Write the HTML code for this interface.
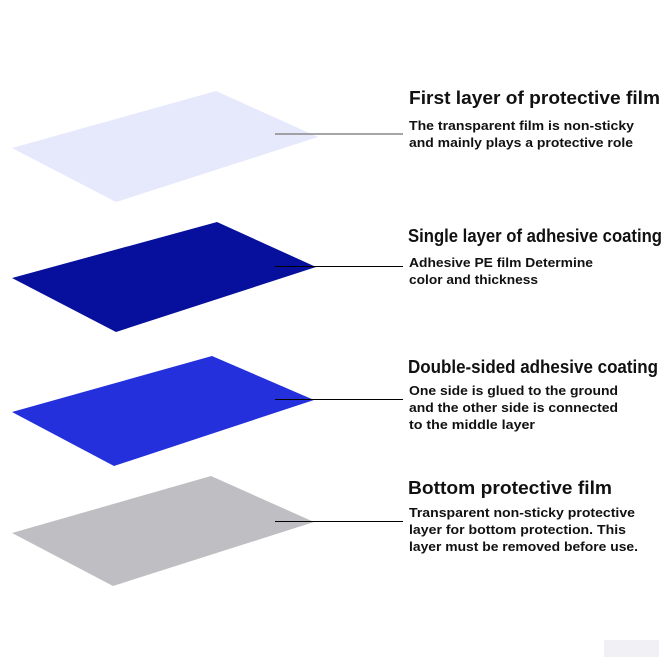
<!DOCTYPE html>
<html><head><meta charset="utf-8"><style>html,body{margin:0;padding:0;background:#fff}svg{display:block}</style></head>
<body>
<svg width="668" height="668" viewBox="0 0 668 668" xmlns="http://www.w3.org/2000/svg" font-family="Liberation Sans, sans-serif" font-weight="bold" fill="#111">
<polygon points="12,148 216,91 318,137 116,202" fill="#e6e8fc"/>
<polygon points="12,278 217,222 316,267 116,332" fill="#07109c"/>
<polygon points="12,412 212,356 314,400 114,466" fill="#2430dc"/>
<polygon points="12,533 211,476 314,522 113,586" fill="#bfbfc3"/>
<line x1="275" y1="134" x2="403" y2="134" stroke="#888" stroke-width="1.5"/>
<line x1="275" y1="266.5" x2="403" y2="266.5" stroke="#000" stroke-width="1"/>
<line x1="275" y1="399.5" x2="403" y2="399.5" stroke="#000" stroke-width="1"/>
<line x1="275" y1="521.5" x2="403" y2="521.5" stroke="#000" stroke-width="1"/>
<g font-size="18">
<text x="409" y="104" textLength="251" lengthAdjust="spacingAndGlyphs">First layer of protective film</text>
<text x="408" y="242" textLength="254" lengthAdjust="spacingAndGlyphs">Single layer of adhesive coating</text>
<text x="408" y="373" textLength="250" lengthAdjust="spacingAndGlyphs">Double-sided adhesive coating</text>
<text x="408" y="494" textLength="204" lengthAdjust="spacingAndGlyphs">Bottom protective film</text>
</g>
<g font-size="13">
<text x="409" y="130" textLength="225" lengthAdjust="spacingAndGlyphs">The transparent film is non-sticky</text>
<text x="409" y="147" textLength="224" lengthAdjust="spacingAndGlyphs">and mainly plays a protective role</text>
<text x="409" y="267" textLength="184" lengthAdjust="spacingAndGlyphs">Adhesive PE film Determine</text>
<text x="409" y="284" textLength="129" lengthAdjust="spacingAndGlyphs">color and thickness</text>
<text x="409" y="395" textLength="209" lengthAdjust="spacingAndGlyphs">One side is glued to the ground</text>
<text x="409" y="412" textLength="209" lengthAdjust="spacingAndGlyphs">and the other side is connected</text>
<text x="409" y="429" textLength="126" lengthAdjust="spacingAndGlyphs">to the middle layer</text>
<text x="409" y="517" textLength="226" lengthAdjust="spacingAndGlyphs">Transparent non-sticky protective</text>
<text x="409" y="534" textLength="217" lengthAdjust="spacingAndGlyphs">layer for bottom protection. This</text>
<text x="409" y="551" textLength="229" lengthAdjust="spacingAndGlyphs">layer must be removed before use.</text>
</g>
<rect x="604" y="640" width="55" height="17" fill="#f0f0f5"/>
</svg>
</body></html>
